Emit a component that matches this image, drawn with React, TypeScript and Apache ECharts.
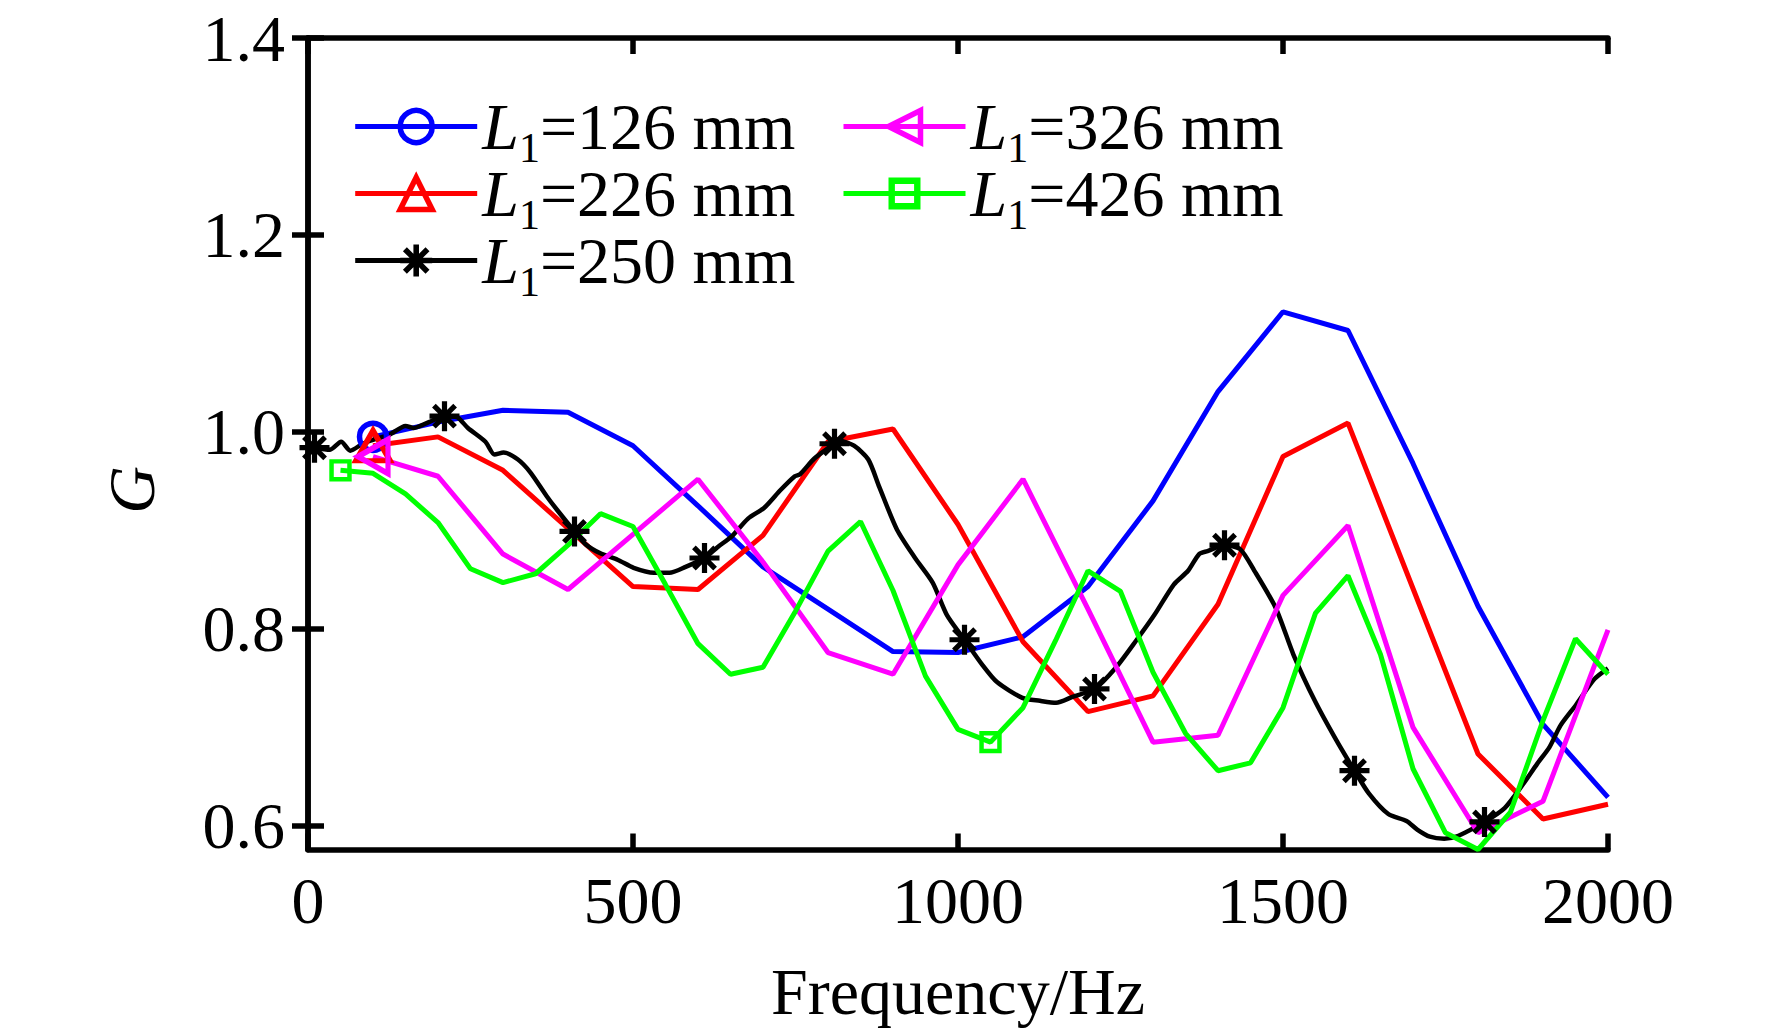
import React, { useEffect, useRef } from "react";
import * as echarts from "echarts";

// ---------- data ----------
const freq100 = [100, 200, 300, 400, 500, 600, 700, 800, 900, 1000, 1100, 1200, 1300, 1400, 1500, 1600, 1700, 1800, 1900, 2000];
const blueY = [0.995, 1.010, 1.022, 1.020, 0.986, 0.925, 0.863, 0.820, 0.777, 0.776, 0.792, 0.843, 0.930, 1.041, 1.122, 1.103, 0.968, 0.823, 0.703, 0.629];
const redY = [0.986, 0.995, 0.961, 0.902, 0.843, 0.840, 0.895, 0.990, 1.003, 0.906, 0.787, 0.716, 0.732, 0.825, 0.975, 1.009, 0.841, 0.673, 0.607, 0.622];
const magentaY = [0.975, 0.955, 0.876, 0.840, 0.896, 0.952, 0.868, 0.776, 0.754, 0.865, 0.952, 0.820, 0.685, 0.692, 0.834, 0.905, 0.700, 0.593, 0.625, 0.799];

const freq50 = [50, 100, 150, 200, 250, 300, 350, 400, 450, 500, 550, 600, 650, 700, 750, 800, 850, 900, 950, 1000, 1050, 1100, 1150, 1200, 1250, 1300, 1350, 1400, 1450, 1500, 1550, 1600, 1650, 1700, 1750, 1800, 1850, 1900, 1950, 2000];
const greenY = [0.961, 0.958, 0.937, 0.908, 0.861, 0.847, 0.856, 0.885, 0.917, 0.904, 0.845, 0.785, 0.754, 0.761, 0.818, 0.879, 0.909, 0.839, 0.752, 0.698, 0.685, 0.720, 0.788, 0.859, 0.838, 0.756, 0.694, 0.656, 0.664, 0.720, 0.816, 0.854, 0.774, 0.658, 0.593, 0.576, 0.614, 0.707, 0.790, 0.754];

const blackX = [10, 34, 51, 65, 84, 100, 125, 150, 163, 186, 210, 229, 246, 273, 287, 301, 323, 342, 367, 383, 410, 427, 449, 477, 501, 532, 556, 581, 610, 630, 652, 677, 702, 727, 749, 757, 779, 810, 818, 840, 862, 879, 906, 934, 961, 983, 1010, 1038, 1060, 1099, 1126, 1151, 1176, 1210, 1242, 1275, 1302, 1332, 1354, 1371, 1384, 1410, 1434, 1456, 1489, 1516, 1549, 1582, 1610, 1632, 1662, 1690, 1707, 1726, 1748, 1770, 1810, 1841, 1869, 1891, 1910, 1927, 1951, 1979, 2000];
const blackY = [0.984, 0.982, 0.990, 0.981, 0.988, 0.992, 0.997, 1.006, 1.004, 1.010, 1.016, 1.015, 1.004, 0.990, 0.977, 0.979, 0.972, 0.959, 0.935, 0.921, 0.899, 0.886, 0.877, 0.870, 0.862, 0.857, 0.857, 0.863, 0.872, 0.883, 0.894, 0.912, 0.923, 0.941, 0.955, 0.957, 0.973, 0.988, 0.991, 0.986, 0.972, 0.944, 0.901, 0.872, 0.847, 0.814, 0.789, 0.763, 0.746, 0.730, 0.727, 0.725, 0.731, 0.739, 0.760, 0.789, 0.814, 0.845, 0.859, 0.876, 0.879, 0.885, 0.881, 0.859, 0.821, 0.774, 0.727, 0.687, 0.656, 0.633, 0.612, 0.605, 0.596, 0.589, 0.587, 0.590, 0.604, 0.618, 0.642, 0.663, 0.680, 0.702, 0.723, 0.749, 0.760];

const blueMarkX = [100];
const redMarkX = [100];
const magentaMarkX = [100];
const greenMarkX = [50, 1050];
const blackMarkX = [10, 210, 410, 610, 810, 1010, 1210, 1410, 1610, 1810];

const seriesNames = ["L1=126 mm", "L1=226 mm", "L1=250 mm", "L1=326 mm", "L1=426 mm"];
const xTicks = [0, 500, 1000, 1500, 2000];
const yTicks = [0.6, 0.8, 1.0, 1.2, 1.4];

// ---------- styling ----------
const FONT = "'Liberation Serif', 'Times New Roman', serif";
const FS = 66;
const LW = 5;
const MW = 5.5;

// plot markers (with transparent margin so the drawn glyph is 75% of the box)
const STAR =
  "path://M0 0L0.01 0Z M100 100L99.99 100Z M43.5 12.5L56.5 12.5L56.5 87.5L43.5 87.5Z M12.5 43.5L87.5 43.5L87.5 56.5L12.5 56.5Z M18.89 28.08L28.08 18.89L81.11 71.92L71.92 81.11Z M71.92 18.89L81.11 28.08L28.08 81.11L18.89 71.92Z";
const SQUARE =
  "path://M0 0L0.01 0Z M100 100L99.99 100Z M15 15L85 15L85 85L15 85Z M29 29L29 71L71 71L71 29Z";
// legend icons (glyph fills its box)
const STAR_LEG =
  "path://M41.3 0L58.7 0L58.7 100L41.3 100Z M0 41.3L100 41.3L100 58.7L0 58.7Z M8.5 20.8L20.8 8.5L91.5 79.2L79.2 91.5Z M79.2 8.5L91.5 20.8L20.8 91.5L8.5 79.2Z";
const SQUARE_LEG = "path://M0 0L100 0L100 100L0 100Z M20 20L20 80L80 80L80 20Z";

function buildData(xs: number[], ys: number[], marks: number[], markSymbol?: string) {
  return xs.map((x, i) => {
    const item: any = { value: [x, ys[i]] };
    if (marks.indexOf(x) < 0) item.symbol = "none";
    else if (markSymbol) item.symbol = markSymbol;
    return item;
  });
}

export default function App() {
  const ref = useRef<HTMLDivElement>(null);

  useEffect(() => {
    if (!ref.current) return;
    const chart = echarts.init(ref.current, undefined, { renderer: "svg" });

    const axisLine = { show: true, lineStyle: { color: "#000", width: 5.5 } };
    const axisTickBase = { show: true, inside: true, length: 16, lineStyle: { color: "#000", width: 5.5 } };
    const labelText = { fontSize: FS, fontFamily: FONT, color: "#000" };

    const rich = {
      i: { fontSize: FS, fontFamily: FONT, fontStyle: "italic", color: "#000", lineHeight: 60 },
      s: { fontSize: 42, fontFamily: FONT, color: "#000", lineHeight: 42, padding: [43, 0, 0, 0] },
      n: { fontSize: FS, fontFamily: FONT, color: "#000", lineHeight: 60 },
    };
    const legendBase = {
      orient: "vertical",
      top: 84,
      itemWidth: 122,
      itemHeight: 40,
      itemGap: -18,
      padding: 0,
      selectedMode: false,
      itemStyle: { borderWidth: MW },
      lineStyle: { width: LW },
      formatter: (name: string) => `{i|L}{s|1}{n|${name.slice(2)}}`,
      textStyle: { fontSize: FS, fontFamily: FONT, color: "#000", rich },
    };

    const option: any = {
      animation: false,
      backgroundColor: "#fff",
      grid: { left: 308, top: 38, right: 164, bottom: 184.5, containLabel: false },
      legend: [
        {
          ...legendBase,
          left: 352.7,
          data: [
            { name: seriesNames[0] },
            { name: seriesNames[1] },
            { name: seriesNames[2], itemStyle: { borderWidth: 0 } },
          ],
        },
        {
          ...legendBase,
          left: 841,
          data: [
            { name: seriesNames[3] },
            { name: seriesNames[4], itemStyle: { borderWidth: 0 } },
          ],
        },
      ],
      xAxis: [
        {
          type: "value",
          position: "bottom",
          min: 0,
          max: 2000,
          interval: 500,
          axisLine,
          axisTick: { ...axisTickBase, customValues: xTicks },
          axisLabel: { ...labelText, margin: 18, customValues: xTicks, formatter: (v: number) => String(v) },
          splitLine: { show: false },
          name: "Frequency/Hz",
          nameLocation: "middle",
          nameGap: 109,
          nameTextStyle: labelText,
        },
        {
          type: "value",
          position: "top",
          min: 0,
          max: 2000,
          interval: 500,
          axisLine,
          axisTick: { ...axisTickBase, customValues: xTicks },
          axisLabel: { show: false },
          splitLine: { show: false },
        },
      ],
      yAxis: [
        {
          type: "value",
          position: "left",
          min: 0.576,
          max: 1.4,
          axisLine,
          axisTick: { ...axisTickBase, customValues: yTicks },
          axisLabel: {
            ...labelText,
            margin: 23,
            padding: [0, 0, 8, 0],
            customValues: yTicks,
            formatter: (v: number) => v.toFixed(1),
          },
          splitLine: { show: false },
        },
        {
          type: "value",
          position: "right",
          min: 0.576,
          max: 1.4,
          axisLine,
          axisTick: { ...axisTickBase, customValues: yTicks },
          axisLabel: { show: false },
          splitLine: { show: false },
        },
      ],
      graphic: [
        {
          type: "text",
          x: 131,
          y: 490,
          rotation: Math.PI / 2,
          style: {
            text: "G",
            fontSize: FS,
            fontFamily: FONT,
            fontStyle: "italic",
            fill: "#000",
            align: "center",
            verticalAlign: "middle",
            textAlign: "center",
            textVerticalAlign: "middle",
          },
        },
      ],
      series: [
        {
          name: seriesNames[0],
          type: "line",
          data: buildData(freq100, blueY, blueMarkX),
          symbol: "circle",
          symbolSize: 27,
          itemStyle: { color: "rgba(0,0,0,0)", borderColor: "#0000ff", borderWidth: MW },
          lineStyle: { color: "#0000ff", width: LW },
        },
        {
          name: seriesNames[1],
          type: "line",
          data: buildData(freq100, redY, redMarkX),
          symbol: "triangle",
          symbolSize: [34, 30],
          itemStyle: { color: "rgba(0,0,0,0)", borderColor: "#ff0000", borderWidth: MW },
          lineStyle: { color: "#ff0000", width: LW },
        },
        {
          name: seriesNames[2],
          type: "line",
          data: buildData(blackX, blackY, blackMarkX, STAR),
          symbol: STAR_LEG,
          symbolSize: 40,
          smooth: 0.25,
          itemStyle: { color: "#000", borderWidth: 0 },
          lineStyle: { color: "#000", width: 4.5 },
        },
        {
          name: seriesNames[3],
          type: "line",
          data: buildData(freq100, magentaY, magentaMarkX),
          symbol: "triangle",
          symbolSize: [34, 30],
          symbolRotate: 90,
          itemStyle: { color: "rgba(0,0,0,0)", borderColor: "#ff00ff", borderWidth: MW },
          lineStyle: { color: "#ff00ff", width: LW },
        },
        {
          name: seriesNames[4],
          type: "line",
          data: buildData(freq50, greenY, greenMarkX, SQUARE),
          symbol: SQUARE_LEG,
          symbolSize: 32,
          itemStyle: { color: "#00ff00", borderWidth: 0 },
          lineStyle: { color: "#00ff00", width: LW },
        },
      ],
    };

    chart.setOption(option);
    return () => chart.dispose();
  }, []);

  return (
    <div
      ref={ref}
      style={{ position: "fixed", left: 0, top: 0, width: 1772, height: 1034, background: "#fff" }}
    />
  );
}
